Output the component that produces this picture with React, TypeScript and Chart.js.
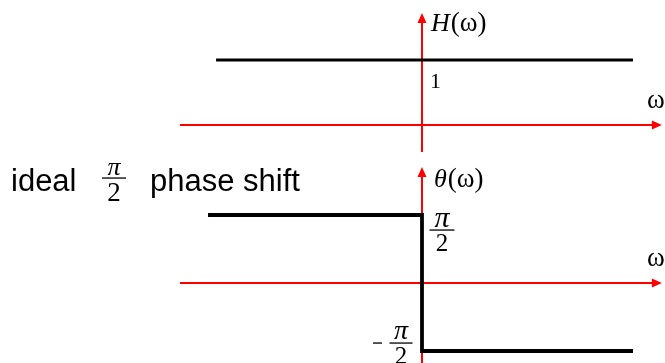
import React, { useEffect, useRef } from "react";
import { Chart, registerables } from "chart.js";

Chart.register(...registerables);

const HALF_PI = Math.PI / 2;
const RED = "rgb(255,0,0)";

// Ideal π/2 phase shifter: flat magnitude, ±π/2 phase step at ω = 0
const magnitudeOmega = [-0.976, 1.0];
const magnitudeValues = [1, 1];
const phaseOmega = [-1.014, 0, 0, 1.0];
const phaseValues = [HALF_PI, HALF_PI, -HALF_PI, -HALF_PI];

// Extents of the drawn coordinate axes
const omegaAxisRange = [-1.147, 1.137];
const magnitudeAxisRange = [-0.415, 1.723];
const phaseAxisRange = [-1.9, 2.68];

// Scale windows (ω normalised, H unitless, θ in rad)
const omegaWindow = [-2.0, 1.1517];
const magnitudeWindow = [-3.662, 1.923];
const phaseWindow = [-1.848, 6.537];

const magnitudeTickLabels = ["1"];

function fraction(
  ctx: CanvasRenderingContext2D,
  cx: number,
  barY: number,
  barW: number,
  numFont: string,
  denFont: string,
  numGap: number,
  denGap: number
) {
  ctx.textAlign = "center";
  ctx.font = numFont;
  ctx.fillText("\u03c0", cx, barY - numGap);
  ctx.fillRect(cx - barW / 2, barY - 0.6, barW, 1.3);
  ctx.font = denFont;
  ctx.fillText("2", cx, barY + denGap);
  ctx.textAlign = "left";
}

function arrowRight(ctx: CanvasRenderingContext2D, tipX: number, y: number) {
  ctx.beginPath();
  ctx.moveTo(tipX, y);
  ctx.lineTo(tipX - 10, y - 4.5);
  ctx.lineTo(tipX - 10, y + 4.5);
  ctx.closePath();
  ctx.fill();
}

function arrowUp(ctx: CanvasRenderingContext2D, x: number, tipY: number) {
  ctx.beginPath();
  ctx.moveTo(x, tipY);
  ctx.lineTo(x - 4.5, tipY + 10);
  ctx.lineTo(x + 4.5, tipY + 10);
  ctx.closePath();
  ctx.fill();
}

const axesPlugin = {
  id: "responseAxes",
  beforeDatasetsDraw(chart: any) {
    const { ctx } = chart;
    const x = chart.scales.x;
    const yH = chart.scales.yH;
    const yT = chart.scales.yT;
    const x0 = x.getPixelForValue(omegaAxisRange[0]);
    const x1 = x.getPixelForValue(omegaAxisRange[1]);
    const xz = x.getPixelForValue(0);

    ctx.save();
    ctx.strokeStyle = RED;
    ctx.fillStyle = RED;
    ctx.lineWidth = 2;

    // ω axes of both panels
    for (const py of [yH.getPixelForValue(0), yT.getPixelForValue(0)]) {
      ctx.beginPath();
      ctx.moveTo(x0, py);
      ctx.lineTo(x1 - 8, py);
      ctx.stroke();
      arrowRight(ctx, x1, py);
    }

    // H(ω) axis
    const hTop = yH.getPixelForValue(magnitudeAxisRange[1]);
    ctx.beginPath();
    ctx.moveTo(xz, yH.getPixelForValue(magnitudeAxisRange[0]));
    ctx.lineTo(xz, hTop + 8);
    ctx.stroke();
    arrowUp(ctx, xz, hTop);

    // θ(ω) axis
    const tTop = yT.getPixelForValue(phaseAxisRange[1]);
    ctx.beginPath();
    ctx.moveTo(xz, yT.getPixelForValue(phaseAxisRange[0]));
    ctx.lineTo(xz, tTop + 8);
    ctx.stroke();
    arrowUp(ctx, xz, tTop);
    ctx.restore();
  },
  afterDatasetsDraw(chart: any) {
    const { ctx } = chart;
    const x = chart.scales.x;
    const yH = chart.scales.yH;
    const yT = chart.scales.yT;
    const xz = x.getPixelForValue(0);
    const xEnd = x.getPixelForValue(omegaAxisRange[1]);
    const serif = "'Liberation Serif', 'Times New Roman', serif";

    ctx.save();
    ctx.fillStyle = "#000";
    ctx.textBaseline = "alphabetic";
    ctx.textAlign = "left";

    // H(ω)
    const hTop = yH.getPixelForValue(magnitudeAxisRange[1]);
    ctx.font = `italic 26px ${serif}`;
    ctx.fillText("H", xz + 9, hTop + 18);
    const hw = ctx.measureText("H").width;
    ctx.font = `27px ${serif}`;
    ctx.fillText("(\u03c9)", xz + 10 + hw, hTop + 18);

    // tick "1"
    ctx.font = `22px ${serif}`;
    ctx.fillText(magnitudeTickLabels[0], xz + 8, yH.getPixelForValue(1) + 28);

    // ω at the end of each horizontal axis
    ctx.font = `27px ${serif}`;
    ctx.fillText("\u03c9", xEnd - 15, yH.getPixelForValue(0) - 17);
    ctx.fillText("\u03c9", xEnd - 15, yT.getPixelForValue(0) - 17);

    // θ(ω)
    const tTop = yT.getPixelForValue(phaseAxisRange[1]);
    ctx.font = `italic 26px ${serif}`;
    ctx.fillText("\u03b8", xz + 12, tTop + 20);
    const tw = ctx.measureText("\u03b8").width;
    ctx.font = `27px ${serif}`;
    ctx.fillText("(\u03c9)", xz + 13 + tw, tTop + 20);

    // π/2 and -π/2 level labels
    fraction(ctx, xz + 20, yT.getPixelForValue(HALF_PI) + 15, 25,
      `italic 30px ${serif}`, `25px ${serif}`, 3, 21);
    const lowBar = yT.getPixelForValue(-HALF_PI) - 8;
    fraction(ctx, xz - 21, lowBar, 23,
      `italic 28px ${serif}`, `25px ${serif}`, 4, 21);
    ctx.fillRect(xz - 49, lowBar - 0.6, 9, 1.3);

    // caption
    const sans = "'Liberation Sans', Arial, sans-serif";
    ctx.font = `31px ${sans}`;
    ctx.fillText("ideal", 11, 191);
    fraction(ctx, 114, 178, 24, `italic 26px ${serif}`, `27px ${serif}`, 3, 23);
    ctx.font = `31px ${sans}`;
    ctx.fillText("phase shift", 150, 191);
    ctx.restore();
  },
};

export default function App() {
  const canvasRef = useRef<HTMLCanvasElement | null>(null);

  useEffect(() => {
    const canvas = canvasRef.current;
    if (!canvas) return;
    const chart = new Chart(canvas, {
      type: "line",
      data: {
        datasets: [
          {
            label: "H(\u03c9)",
            data: magnitudeOmega.map((w, i) => ({ x: w, y: magnitudeValues[i] })),
            yAxisID: "yH",
            borderColor: "#000",
            borderWidth: 3,
            pointRadius: 0,
            tension: 0,
            clip: false,
          },
          {
            label: "\u03b8(\u03c9)",
            data: phaseOmega.map((w, i) => ({ x: w, y: phaseValues[i] })),
            yAxisID: "yT",
            borderColor: "#000",
            borderWidth: 3.8,
            pointRadius: 0,
            tension: 0,
            clip: false,
            borderJoinStyle: "miter",
          },
        ],
      },
      options: {
        responsive: false,
        animation: false,
        events: [],
        layout: { padding: 0 },
        plugins: {
          legend: { display: false },
          tooltip: { enabled: false },
        },
        scales: {
          x: { type: "linear", display: false, min: omegaWindow[0], max: omegaWindow[1] },
          yH: { type: "linear", display: false, min: magnitudeWindow[0], max: magnitudeWindow[1] },
          yT: { type: "linear", display: false, min: phaseWindow[0], max: phaseWindow[1] },
        },
      },
      plugins: [axesPlugin],
    });
    return () => chart.destroy();
  }, []);

  return (
    <div style={{ position: "fixed", left: 0, top: 0, width: 665, height: 363, background: "#fff" }}>
      <canvas ref={canvasRef} width={665} height={363} style={{ display: "block" }} />
    </div>
  );
}
